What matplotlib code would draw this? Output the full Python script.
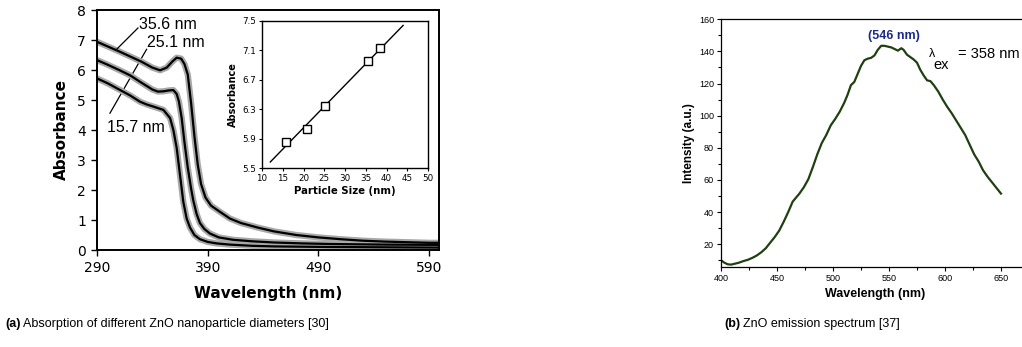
import numpy as np
import matplotlib.pyplot as plt

# --- absorption spectra (left panel) ---
wl_356 = [290, 300, 310, 320, 330, 340, 347, 353, 358, 362, 366, 369, 372, 375, 378,
          381, 384, 388, 393, 400, 410, 420, 435, 450, 470, 490, 510, 530, 550, 570, 590, 600]
abs_356 = [6.94, 6.78, 6.62, 6.45, 6.28, 6.08, 5.99, 6.08, 6.28, 6.41, 6.38, 6.2, 5.85, 4.9, 3.8,
           2.85, 2.2, 1.75, 1.48, 1.3, 1.05, 0.9, 0.75, 0.62, 0.5, 0.42, 0.36, 0.31, 0.28, 0.26, 0.24, 0.24]

wl_251 = [290, 300, 310, 320, 330, 340, 345, 350, 355, 359, 362, 364, 366.5, 369, 372, 375,
          377, 380, 383, 387, 392, 400, 413, 430, 450, 475, 500, 550, 600]
abs_251 = [6.33, 6.17, 6.0, 5.82, 5.58, 5.35, 5.28, 5.29, 5.32, 5.33, 5.2, 4.95, 4.4, 3.6, 2.75, 2.05,
           1.65, 1.2, 0.9, 0.7, 0.55, 0.42, 0.34, 0.29, 0.25, 0.22, 0.2, 0.18, 0.17]

wl_157 = [290, 300, 308, 320, 329, 335, 341, 350, 356, 359, 362, 365, 368, 371, 374, 378,
          383, 390, 398, 410, 430, 450, 500, 550, 600]
abs_157 = [5.72, 5.55, 5.39, 5.15, 4.94, 4.85, 4.78, 4.67, 4.4, 4.0, 3.4, 2.5, 1.6, 1.05, 0.75, 0.5,
           0.36, 0.27, 0.22, 0.18, 0.14, 0.12, 0.1, 0.09, 0.08]

# inset: absorbance vs particle size
size_nm = [15.7, 20.9, 25.1, 35.6, 38.5]
size_abs = [5.85, 6.03, 6.34, 6.96, 7.13]

# --- emission spectrum (right panel) ---
em_wl = [400, 403, 406, 409, 412, 416, 420, 424, 428, 432, 436, 440, 444, 448, 452,
         456, 460, 464, 467, 470, 474, 478, 482, 486, 490, 494, 498, 502, 506, 510,
         513, 516, 519, 522, 525, 528, 531, 534, 537, 540, 543, 546, 549, 552, 555,
         558, 561, 563, 566, 569, 572, 575, 578, 581, 584, 587, 590, 594, 598, 602,
         606, 610, 614, 618, 622, 626, 630, 634, 638, 642, 646, 650]
em_int = [10, 8.5, 7.5, 7.3, 7.8, 8.5, 9.5, 10.3, 11.5, 13, 15, 17.5, 21, 24.5, 28.5,
          34, 40, 46.5, 49, 51.5, 55.5, 60.5, 68, 76, 83, 88, 94, 98, 102.5, 108,
          113, 119, 121, 126, 131, 134.5, 135.5, 136, 137.5, 141, 143.5, 143.5, 143, 142.5, 141.5,
          140.5, 142, 141, 138, 136.5, 135, 133, 128.5, 125, 122, 121.5, 119, 115, 110, 105.5,
          101.5, 97, 92.5, 88, 82, 76, 71.5, 66, 62, 58.5, 55, 51.5]

W, H = 1022, 347
fig = plt.figure(figsize=(W / 100, H / 100), dpi=100)


def px_axes(x0, y0, x1, y1):
    # pixel box (left, top, right, bottom) -> figure fraction axes
    return fig.add_axes([x0 / W, 1 - y1 / H, (x1 - x0) / W, (y1 - y0) / H])


# ---------------- left: absorption ----------------
ax = px_axes(97, 10, 439, 250)
for wl, ab in [(wl_356, abs_356), (wl_251, abs_251), (wl_157, abs_157)]:
    ax.plot(wl, ab, color='#a8a8a8', lw=4.5, solid_capstyle='round', zorder=2)
    ax.plot(wl, ab, color='black', lw=1.6, zorder=3)

ax.set_xlim(290, 599)
ax.set_ylim(0, 8)
ax.set_xticks([290, 390, 490, 590])
ax.set_yticks(range(0, 9))
ax.tick_params(direction='out', length=4, width=1, labelsize=10, pad=4)
for s in ax.spines.values():
    s.set_linewidth(1.4)
ax.set_xlabel('Wavelength (nm)', fontsize=11, fontweight='bold', labelpad=8)
ax.set_ylabel('Absorbance', fontsize=11, fontweight='bold', labelpad=6)

lab = dict(fontsize=11.5, family='Liberation Sans', va='center', ha='left')
ax.text(328, 7.53, '35.6 nm', **lab)
ax.text(335, 6.92, '25.1 nm', **lab)
ax.text(299, 4.08, '15.7 nm', **lab)
ax.plot([327, 308], [7.4, 6.7], color='black', lw=0.9, zorder=4)
ax.plot([334.8, 301.7], [6.69, 4.56], color='black', lw=0.9, zorder=1)

# inset
ins = px_axes(262, 21, 428, 168)
fit = np.polyfit(size_nm, size_abs, 1)
fx = np.array([12, 44])
ins.plot(fx, np.polyval(fit, fx), color='black', lw=1)
ins.plot(size_nm, size_abs, 's', ms=6, mfc='white', mec='black', mew=1)
ins.set_xlim(10, 50)
ins.set_ylim(5.5, 7.5)
ins.set_xticks(range(10, 51, 5))
ins.set_yticks([5.5, 5.9, 6.3, 6.7, 7.1, 7.5])
ins.tick_params(direction='out', length=2.5, width=0.8, labelsize=6.3, pad=2)
for s in ins.spines.values():
    s.set_linewidth(1)
ins.set_xlabel('Particle Size (nm)', fontsize=7.3, fontweight='bold', labelpad=2)
ins.set_ylabel('Absorbance', fontsize=7, fontweight='bold', labelpad=3)

# ---------------- right: emission ----------------
rf = 'Liberation Sans'
ax2 = px_axes(721, 19.3, 1029, 266.7)
ax2.plot(em_wl, em_int, color='#1f4010', lw=1.6)
ax2.set_xlim(400, 675)
ax2.set_ylim(6, 160)
ax2.set_xticks(range(400, 651, 50))
ax2.set_xticks(range(425, 676, 50), minor=True)
ax2.set_yticks(range(20, 161, 20))
ax2.set_yticks(range(10, 161, 20), minor=True)
ax2.tick_params(which='major', direction='out', length=3, width=0.8, labelsize=6.5, pad=2)
ax2.tick_params(which='minor', direction='out', length=2, width=0.8)
for t in ax2.get_xticklabels() + ax2.get_yticklabels():
    t.set_family(rf)
for s in ax2.spines.values():
    s.set_linewidth(0.9)
ax2.spines['right'].set_visible(False)
ax2.set_xlabel('Wavelength (nm)', fontsize=9, fontweight='bold', family=rf, labelpad=4)
ax2.set_ylabel('Intensity (a.u.)', fontsize=8.5, fontweight='bold', family=rf, labelpad=3)
ax2.text(554.5, 149.6, '(546 nm)', color='#1c2a8c', fontsize=9, fontweight='bold',
         family=rf, ha='center', va='center')
ax2.text(586, 138.5, '\u03bb', fontsize=9, family=rf, ha='left', va='center')
ax2.text(590, 131.5, 'ex', fontsize=10.5, family=rf, ha='left', va='center')
ax2.text(612, 138.4, '= 358 nm', fontsize=10.5, family=rf, ha='left', va='center')

# captions
cap = dict(fontsize=9, family=['Liberation Sans Narrow', 'Liberation Sans'], va='center')
fig.text(5 / W, 1 - 324 / H, '(a)', fontweight='bold', **cap)
fig.text(23 / W, 1 - 324 / H, 'Absorption of different ZnO nanoparticle diameters [30]', **cap)
fig.text(724 / W, 1 - 324 / H, '(b)', fontweight='bold', **cap)
fig.text(743 / W, 1 - 324 / H, 'ZnO emission spectrum [37]', **cap)

fig.savefig('out.png', dpi=100)
